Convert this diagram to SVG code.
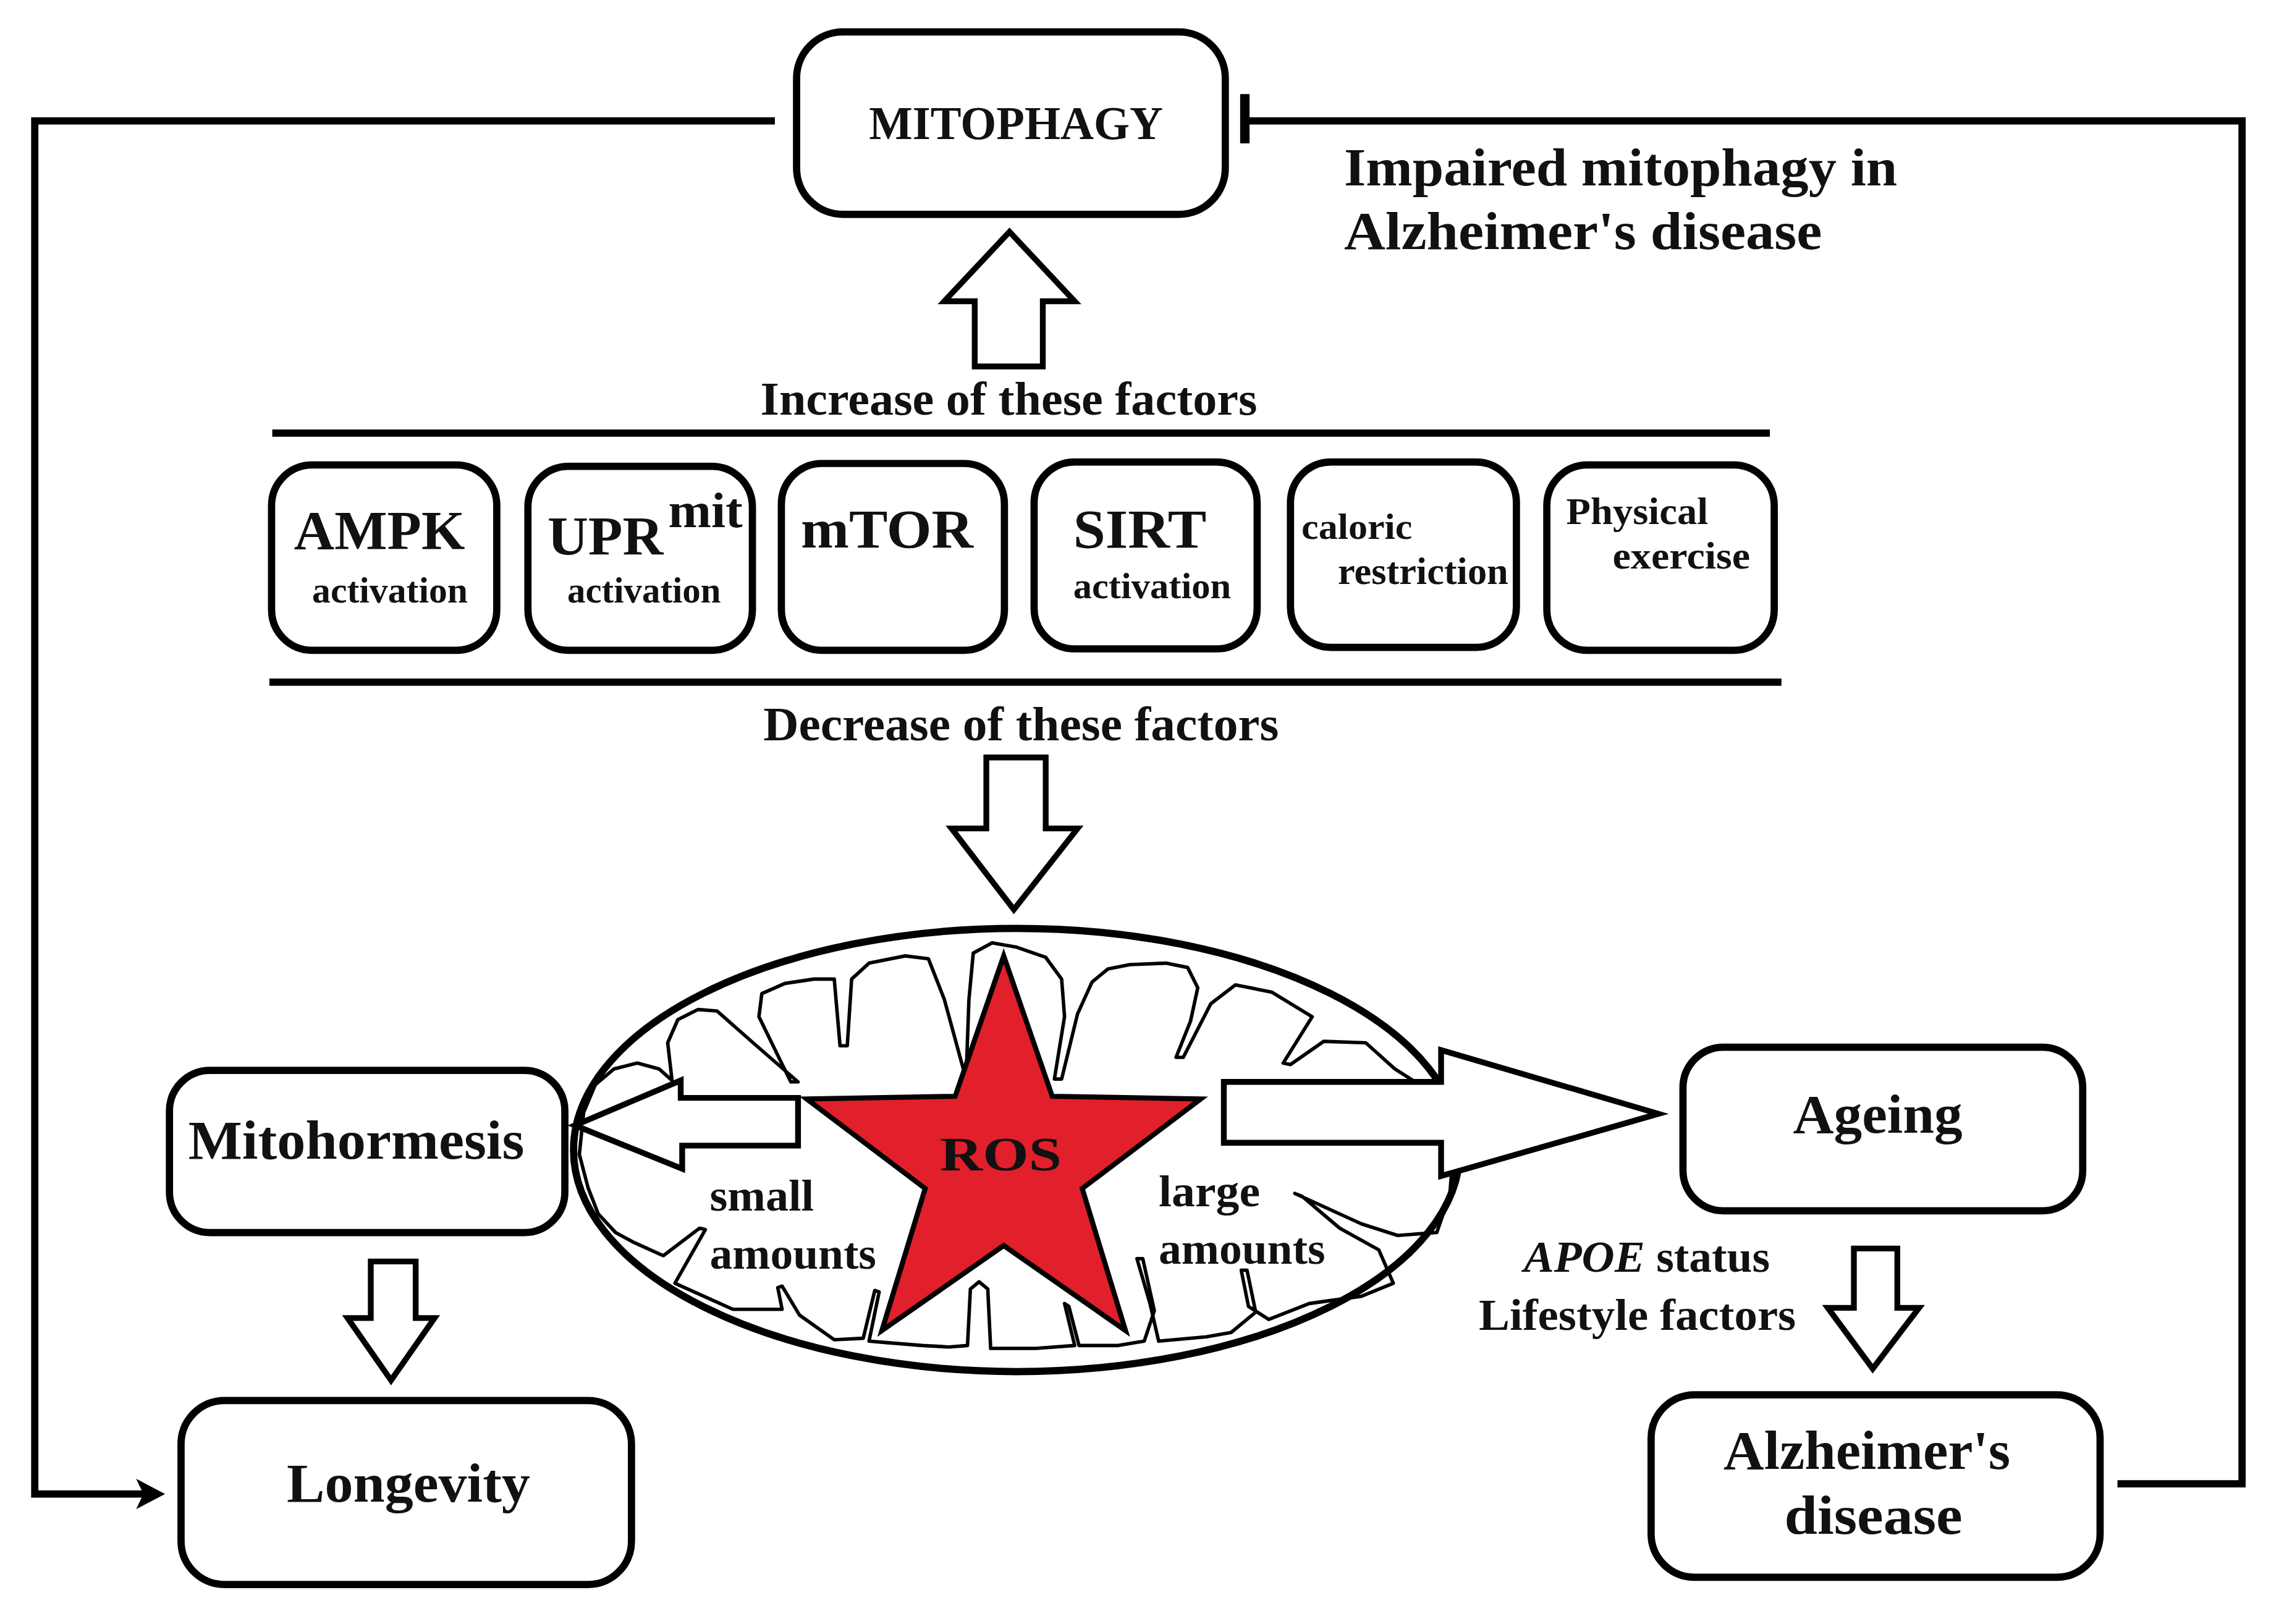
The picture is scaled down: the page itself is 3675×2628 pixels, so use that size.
<svg xmlns="http://www.w3.org/2000/svg" width="3675" height="2628" viewBox="0 0 3675 2628">
<style>
.box{fill:#fff;stroke:#000;stroke-width:5}
.blk{fill:#fff;stroke:#000;stroke-width:4;stroke-linejoin:miter}
.ln{fill:none;stroke:#000;stroke-width:5}
.t{font-family:"Liberation Serif","Times New Roman",serif;font-weight:700;fill:#111}
</style>
<defs>
<marker id="arr" viewBox="0 0 20 21" refX="14" refY="10.5" markerWidth="20" markerHeight="21" markerUnits="userSpaceOnUse" orient="auto">
<path d="M0,0 L20,10.5 L0,21 L5,10.5 Z" fill="#000"/>
</marker>
</defs>
<rect x="0" y="0" width="3675" height="2628" fill="#fff"/>
<g transform="scale(2.34375)">

<g id="mitochondrion">
<ellipse cx="702" cy="794" rx="306" ry="153" fill="#fff" stroke="#000" stroke-width="5"/>
<path fill="none" stroke="#000" stroke-width="2.4" stroke-linejoin="round" d="M 400,797 L 403,768 L 411,749 L 424,738 L 440,734 L 455,738 L 464,746 L 461,720 L 468,704 L 482,697 L 495,698 L 520,720 L 551,747 L 546,747 L 524,702 L 526,686 L 542,679 L 562,676 L 576,676 L 580,722 L 585,722 L 588,676 L 600,665 L 625,660 L 641,662 L 652,690 L 667,745 L 669,690 L 672,658 L 685,651 L 702,654 L 722,661 L 733,676 L 735,702 L 728,745 L 733,745 L 744,700 L 754,678 L 765,669 L 780,666 L 805,665 L 820,668 L 827,682 L 822,705 L 812,730 L 817,730 L 836,693 L 853,680 L 878,685 L 906,702 L 886,734 L 891,735 L 914,719 L 943,720 L 963,738 L 985,752 L 998,775 L 1003,800 L 1001,825 L 992,851 L 965,853 L 940,845 L 894,824 L 899,826 L 925,848 L 952,863 L 962,886 L 940,895 L 904,900 L 876,911 L 862,902 L 857,877 L 861,877 L 867,906 L 850,920 L 833,923 L 800,926 L 794,900 L 785,869 L 789,869 L 797,905 L 790,926 L 772,929 L 745,929 L 738,902 L 735,900 L 742,929 L 715,931 L 684,931 L 682,890 L 676,885 L 670,890 L 668,929 L 655,930 L 637,929 L 612,927 L 600,926 L 607,892 L 604,891 L 596,924 L 576,925 L 552,908 L 540,888 L 537,889 L 540,904 L 506,904 L 466,886 L 487,849 L 483,848 L 458,867 L 438,858 L 425,851 L 413,838 L 406,820 Z"/>
<polygon points="693,660 726.5,756.9 829,758.8 747.2,820.6 777.1,918.7 693,860 608.9,918.7 638.8,820.6 557,758.8 659.5,756.9" fill="#e2202b" stroke="#000" stroke-width="3.5" stroke-linejoin="miter"/>
<text class="t" x="649" y="808" font-size="33" textLength="84" lengthAdjust="spacingAndGlyphs" fill="#1a1010">ROS</text>
<text class="t" x="490" y="836" font-size="30.5" textLength="72" lengthAdjust="spacingAndGlyphs">small</text>
<text class="t" x="490" y="876" font-size="30.5" textLength="115" lengthAdjust="spacingAndGlyphs">amounts</text>
<text class="t" x="800" y="833" font-size="30.5" textLength="70" lengthAdjust="spacingAndGlyphs">large</text>
<text class="t" x="800" y="872.5" font-size="30.5" textLength="115" lengthAdjust="spacingAndGlyphs">amounts</text>
</g>

<g id="connectors">
<path class="ln" d="M 535,83.5 H 24 V 1031.5 H 108" marker-end="url(#arr)"/>
<path class="ln" d="M 1462,1024.5 H 1548 V 83.5 H 859"/>
<line x1="859.5" y1="65" x2="859.5" y2="99" stroke="#000" stroke-width="6.5"/>
<polygon class="blk" points="673,253 673,208 652,208 697,160 742,208 720,208 720,253"/>
<polygon class="blk" points="681,523 722,523 722,572 744,572 700,628 657,572 681,572"/>
<polygon class="blk" points="551,758 470,758 470,746 397,777 471,807 471,791 551,791"/>
<polygon class="blk" points="845,747 995,747 995,725 1145,769 995,812 995,789 845,789"/>
<polygon class="blk" points="256,871 287,871 287,910 300,910 270,953 240,910 256,910"/>
<polygon class="blk" points="1280,862 1310,862 1310,903 1325,903 1293,945 1262,903 1280,903"/>
<g id="label-apoe">
<text class="t" x="1052" y="878" font-size="30.5" textLength="170" lengthAdjust="spacingAndGlyphs"><tspan font-style="italic">APOE</tspan> status</text>
<text class="t" x="1021" y="918" font-size="30.5" textLength="219" lengthAdjust="spacingAndGlyphs">Lifestyle factors</text>
</g>
<g id="label-impaired">
<text class="t" x="928" y="128" font-size="37" textLength="382" lengthAdjust="spacingAndGlyphs">Impaired mitophagy in</text>
<text class="t" x="928" y="172" font-size="37" textLength="330" lengthAdjust="spacingAndGlyphs">Alzheimer's disease</text>
</g>
</g>

<g id="mitophagy">
<rect class="box" x="550" y="22" width="296" height="126" rx="32"/>
<text class="t" x="600" y="96" font-size="32.5" textLength="203" lengthAdjust="spacingAndGlyphs">MITOPHAGY</text>
</g>

<g id="factors">
<text class="t" x="525" y="286.5" font-size="32.5" textLength="343" lengthAdjust="spacingAndGlyphs">Increase of these factors</text>
<line class="ln" x1="188" y1="299" x2="1222" y2="299"/>
<line class="ln" x1="186" y1="471" x2="1230" y2="471"/>
<text class="t" x="527" y="511" font-size="33" textLength="356" lengthAdjust="spacingAndGlyphs">Decrease of these factors</text>
</g>

<g id="ampk">
<rect class="box" x="187.5" y="321" width="155.5" height="128" rx="28"/>
<text class="t" x="203" y="379" font-size="38" textLength="118" lengthAdjust="spacingAndGlyphs">AMPK</text>
<text class="t" x="215.5" y="416" font-size="25.5" textLength="107.5" lengthAdjust="spacingAndGlyphs">activation</text>
</g>

<g id="upr">
<rect class="box" x="364.5" y="322" width="155" height="127" rx="28"/>
<text class="t" x="378" y="382.6" font-size="38" textLength="80" lengthAdjust="spacingAndGlyphs">UPR</text>
<text class="t" x="461.4" y="364" font-size="34" textLength="51.4" lengthAdjust="spacingAndGlyphs">mit</text>
<text class="t" x="391.7" y="416" font-size="25.5" textLength="106" lengthAdjust="spacingAndGlyphs">activation</text>
</g>

<g id="mtor">
<rect class="box" x="539.5" y="320" width="154" height="129" rx="28"/>
<text class="t" x="553" y="378" font-size="38" textLength="119" lengthAdjust="spacingAndGlyphs">mTOR</text>
</g>

<g id="sirt">
<rect class="box" x="714" y="319" width="154" height="129" rx="28"/>
<text class="t" x="741" y="378" font-size="38" textLength="92" lengthAdjust="spacingAndGlyphs">SIRT</text>
<text class="t" x="741" y="413" font-size="25.5" textLength="109" lengthAdjust="spacingAndGlyphs">activation</text>
</g>

<g id="caloric">
<rect class="box" x="891" y="319" width="156" height="128" rx="28"/>
<text class="t" x="898.6" y="372" font-size="25.5" textLength="76.5" lengthAdjust="spacingAndGlyphs">caloric</text>
<text class="t" x="923.7" y="403" font-size="26" textLength="117.7" lengthAdjust="spacingAndGlyphs">restriction</text>
</g>

<g id="exercise">
<rect class="box" x="1068" y="321" width="157" height="128" rx="28"/>
<text class="t" x="1081.4" y="362" font-size="26.5" textLength="98" lengthAdjust="spacingAndGlyphs">Physical</text>
<text class="t" x="1113.4" y="392.5" font-size="26.5" textLength="95" lengthAdjust="spacingAndGlyphs">exercise</text>
</g>

<g id="mitohormesis">
<rect class="box" x="117" y="739" width="273" height="112" rx="28"/>
<text class="t" x="130" y="800" font-size="38" textLength="232" lengthAdjust="spacingAndGlyphs">Mitohormesis</text>
</g>

<g id="longevity">
<rect class="box" x="125" y="967" width="311" height="127" rx="30"/>
<text class="t" x="198" y="1037" font-size="38" textLength="168" lengthAdjust="spacingAndGlyphs">Longevity</text>
</g>

<g id="ageing">
<rect class="box" x="1162" y="723" width="276" height="113" rx="28"/>
<text class="t" x="1238" y="782" font-size="38" textLength="117" lengthAdjust="spacingAndGlyphs">Ageing</text>
</g>

<g id="alzheimers">
<rect class="box" x="1140" y="963" width="310" height="126" rx="30"/>
<text class="t" x="1190" y="1014" font-size="38" textLength="198" lengthAdjust="spacingAndGlyphs">Alzheimer's</text>
<text class="t" x="1232" y="1059" font-size="38" textLength="123" lengthAdjust="spacingAndGlyphs">disease</text>
</g>

</g>
</svg>
